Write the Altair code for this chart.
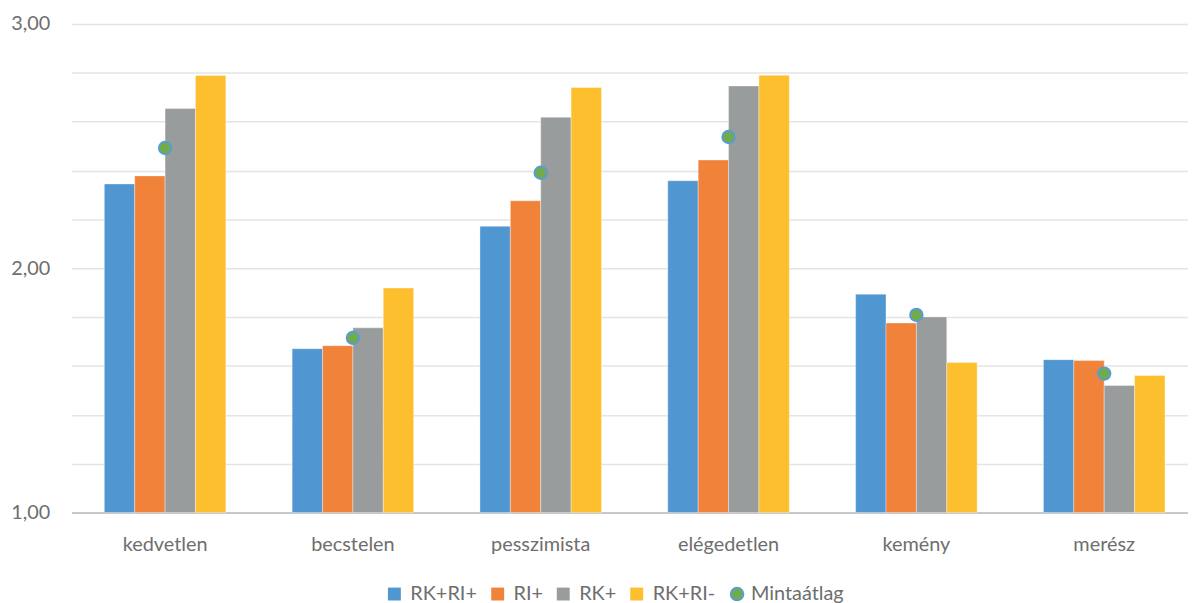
import altair as alt
import pandas as pd

categories = ["kedvetlen", "becstelen", "pesszimista", "elégedetlen", "kemény", "merész"]
series = ["RK+RI+", "RI+", "RK+", "RK+RI-"]
rkri_plus = [2.345, 1.671, 2.172, 2.358, 1.894, 1.626]
ri_plus = [2.378, 1.683, 2.276, 2.443, 1.776, 1.622]
rk_plus = [2.654, 1.756, 2.618, 2.746, 1.801, 1.520]
rkri_minus = [2.789, 1.919, 2.740, 2.790, 1.614, 1.561]
mintaatlag = [2.492, 1.715, 2.391, 2.537, 1.809, 1.569]
colors = ["#5097D2", "#F0823A", "#999C9D", "#FDBF2D"]
y_ticks = [1.0, 1.2, 1.4, 1.6, 1.8, 2.0, 2.2, 2.4, 2.6, 2.8, 3.0]

rows = []
for s, vals in zip(series, [rkri_plus, ri_plus, rk_plus, rkri_minus]):
    for c, v in zip(categories, vals):
        rows.append({"cat": c, "series": s, "value": v})
bars_df = pd.DataFrame(rows)
mean_df = pd.DataFrame({"cat": categories, "value": mintaatlag, "label": ["Mintaátlag"] * len(categories)})

FONT = "Lato"
TXT = "#6E6E6E"

x_enc = alt.X("cat:N", sort=categories, title=None,
              scale=alt.Scale(paddingInner=0.353, paddingOuter=0.1485, align=0.587),
              axis=alt.Axis(labelFontSize=20, labelFont=FONT, labelColor=TXT, labelAngle=0,
                            labelPadding=22, ticks=False, domainColor="#C8C8C8", domainWidth=2,
                            grid=False))
y_enc = alt.Y("value:Q", title=None,
              scale=alt.Scale(domain=[1, 3], zero=False, nice=False),
              axis=alt.Axis(values=y_ticks, labelFontSize=20, labelFont=FONT, labelColor=TXT,
                            labelExpr="abs(datum.value - round(datum.value)) < 0.001 ? replace(format(datum.value, '.2f'), '.', ',') : ''",
                            labelPadding=22, ticks=False, domain=False, gridColor="#E4E4E4",
                            gridWidth=1.5))

bars = alt.Chart(bars_df).mark_bar(stroke="white", strokeWidth=0.6, strokeOpacity=0.6).encode(
    x=x_enc,
    xOffset=alt.XOffset("series:N", sort=series, scale=alt.Scale(paddingInner=0, paddingOuter=0)),
    y=y_enc,
    y2=alt.datum(1),
    color=alt.Color("series:N", sort=series,
                    scale=alt.Scale(domain=series, range=colors),
                    legend=alt.Legend(title=None, orient="none", direction="horizontal",
                                      legendX=315, legendY=564, symbolType="square",
                                      symbolSize=169, symbolStrokeWidth=0, labelFontSize=20,
                                      labelFont=FONT, labelColor=TXT, columnPadding=10,
                                      labelOffset=6)),
)

points = alt.Chart(mean_df).mark_point(filled=True, size=155, stroke="#5B9BD5", strokeWidth=2,
                                       opacity=1, shape="circle").encode(
    x=alt.X("cat:N", sort=categories),
    y=alt.Y("value:Q"),
    color=alt.Color("label:N",
                    scale=alt.Scale(domain=["Mintaátlag"], range=["#70AD47"]),
                    legend=alt.Legend(title=None, orient="none", direction="horizontal",
                                      legendX=660, legendY=564, symbolType="circle",
                                      symbolSize=160, symbolStrokeColor="#5B9BD5",
                                      symbolStrokeWidth=2, symbolFillColor="#70AD47",
                                      labelFontSize=20, labelFont=FONT, labelColor=TXT,
                                      labelOffset=4)),
)

chart = alt.layer(bars, points).resolve_scale(color="independent").properties(
    width=1124, height=492,
    autosize=alt.AutoSizeParams(type="none"),
    padding={"left": 64, "top": 14, "right": 0, "bottom": 89},
).configure_view(stroke=None)

chart.save("out.html", embed_options={"renderer": "svg", "actions": False})
